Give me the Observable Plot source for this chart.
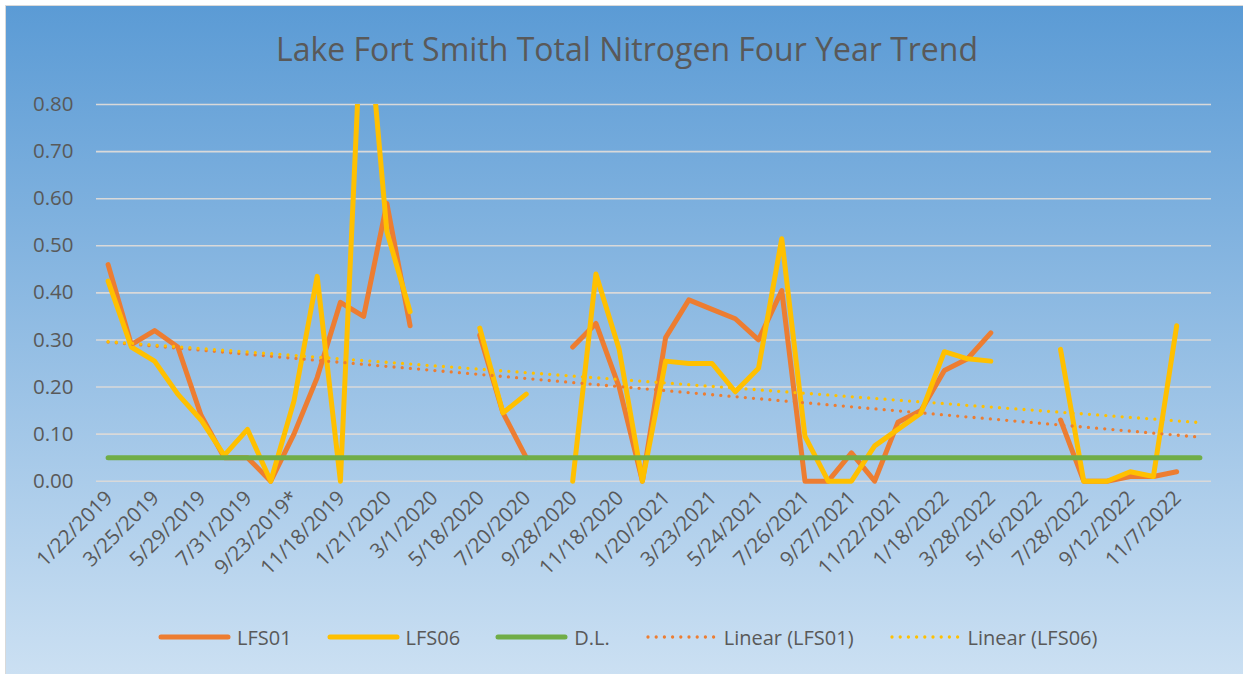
<!DOCTYPE html>
<html>
<head>
<meta charset="utf-8">
<script src="https://cdn.jsdelivr.net/npm/d3@7"></script>
<script src="https://cdn.jsdelivr.net/npm/@observablehq/plot@0.6"></script>
<style>
  html, body { margin: 0; padding: 0; width: 1243px; height: 674px; overflow: hidden; background: #ffffff; position: relative; }
  #bg { position: absolute; left: 5px; top: 5px; width: 1260px; height: 680px;
        border-left: 1.5px solid #d9d9d9; border-top: 1.5px solid #d9d9d9;
        background: linear-gradient(to bottom, #5b9bd5 0%, #cde1f3 100%); }
  #title { position: absolute; left: 5px; width: 1244px; top: 33px; text-align: center;
           font-family: 'Open Sans', sans-serif; font-size: 32px; line-height: 32px; color: #595959; white-space: nowrap; }
  #plot { position: absolute; left: 0; top: 70px; }
  #legend { position: absolute; left: 158px; top: 624px; height: 26px; display: flex; align-items: center;
            font-family: 'Open Sans', sans-serif; font-size: 20px; color: #595959; white-space: nowrap; }
  .item { display: flex; align-items: center; margin-right: 35px; }
  .item svg { margin-right: 6px; }
</style>
</head>
<body>
<div id="bg"></div>
<div id="title">Lake Fort Smith Total Nitrogen Four Year Trend</div>
<div id="plot"></div>
<div id="legend"></div>
<script>
// ---- data ----
const tickLabels = ["1/22/2019","3/25/2019","5/29/2019","7/31/2019","9/23/2019*","11/18/2019",
  "1/21/2020","3/1/2020","5/18/2020","7/20/2020","9/28/2020","11/18/2020",
  "1/20/2021","3/23/2021","5/24/2021","7/26/2021","9/27/2021","11/22/2021",
  "1/18/2022","3/28/2022","5/16/2022","7/28/2022","9/12/2022","11/7/2022"];

const lfs01 = [0.46,0.29,0.32,0.285,0.14,0.05,0.05,0.0,0.10,0.22,0.38,0.35,0.59,0.33,
  null,null,0.31,0.145,0.05,null,0.285,0.335,0.20,0.0,0.305,0.385,0.365,0.345,0.30,0.405,
  0.0,0.0,0.06,0.0,0.125,0.15,0.235,0.26,0.315,null,null,0.13,0.0,0.0,0.01,0.01,0.02,null];

const lfs06 = [0.425,0.285,0.255,0.185,0.13,0.055,0.11,0.0,0.17,0.435,0.0,1.09,0.53,0.36,
  null,null,0.325,0.145,0.185,null,0.0,0.44,0.28,0.0,0.255,0.25,0.25,0.19,0.24,0.515,
  0.095,0.0,0.0,0.075,0.11,0.145,0.275,0.26,0.255,null,null,0.28,0.0,0.0,0.02,0.01,0.33,null];

const detectionLimit = 0.05;
const yTicks = [0, 0.1, 0.2, 0.3, 0.4, 0.5, 0.6, 0.7, 0.8];

const legendLabels = ["LFS01", "LFS06", "D.L.", "Linear (LFS01)", "Linear (LFS06)"];
const legendColors = ["#ED7D31", "#FFC000", "#70AD47", "#ED7D31", "#FFC000"];
const legendDotted = [false, false, false, true, true];

// ---- build ----
const n = lfs01.length;
const idx = d3.range(n);
const rows = idx.map(i => ({i, lfs01: lfs01[i], lfs06: lfs06[i], dl: detectionLimit}));
const tickIdx = tickLabels.map((_, k) => k * 2);

// Excel-style linear trendline (least squares over category index, blanks skipped)
function trend(values) {
  const pts = values.map((v, i) => [i, v]).filter(p => p[1] != null);
  const mx = d3.mean(pts, p => p[0]), my = d3.mean(pts, p => p[1]);
  const sxy = d3.sum(pts, p => (p[0] - mx) * (p[1] - my));
  const sxx = d3.sum(pts, p => (p[0] - mx) ** 2);
  const b = sxy / sxx, a = my - b * mx;
  return [0, n - 1].map(x => ({x, y: a + b * x}));
}
const trend01 = trend(lfs01);
const trend06 = trend(lfs06);

const solid = {strokeWidth: 5, strokeLinecap: "round", strokeLinejoin: "round"};
const dotted = {strokeWidth: 3.3, strokeDasharray: "0 8.2", strokeLinecap: "round"};

const chart = Plot.plot({
  width: 1243,
  height: 540,
  marginLeft: 96,
  marginRight: 32,
  marginTop: 34,
  marginBottom: 124,
  style: {background: "transparent", fontFamily: "'Open Sans', sans-serif", color: "#595959", overflow: "visible"},
  x: {domain: [-0.5, n - 0.5]},
  y: {domain: [0, 0.8], range: [410.7, 34]},
  marks: [
    Plot.gridY(yTicks, {stroke: "#d9d9d9", strokeOpacity: 1, strokeWidth: 1.6}),
    Plot.axisY(yTicks, {tickSize: 0, tickPadding: 23, tickFormat: d3.format(".2f"), fontSize: 20.5, fill: "#595959", label: null}),
    Plot.axisX(tickIdx, {tickSize: 0, tickPadding: 8, tickRotate: -45, dx: 1, tickFormat: i => tickLabels[i / 2], fontSize: 20.5, fill: "#595959", label: null}),
    Plot.line(rows, {x: "i", y: "lfs01", stroke: "#ED7D31", ...solid, clip: true}),
    Plot.line(rows, {x: "i", y: "lfs06", stroke: "#FFC000", ...solid, clip: true}),
    Plot.line(rows, {x: "i", y: "dl", stroke: "#70AD47", ...solid}),
    Plot.line(trend01, {x: "x", y: "y", stroke: "#ED7D31", ...dotted}),
    Plot.line(trend06, {x: "x", y: "y", stroke: "#FFC000", ...dotted})
  ]
});
document.getElementById("plot").appendChild(chart);

// ---- legend ----
const legend = d3.select("#legend");
legendLabels.forEach((lab, k) => {
  const item = legend.append("div").attr("class", "item");
  const svg = item.append("svg").attr("width", 73).attr("height", 12);
  svg.append("line").attr("x1", 3).attr("x2", 70).attr("y1", 6).attr("y2", 6)
    .attr("stroke", legendColors[k])
    .attr("stroke-width", legendDotted[k] ? 3.3 : 5)
    .attr("stroke-linecap", "round")
    .attr("stroke-dasharray", legendDotted[k] ? "0 8.2" : null);
  item.append("span").text(lab);
});
</script>
</body>
</html>
